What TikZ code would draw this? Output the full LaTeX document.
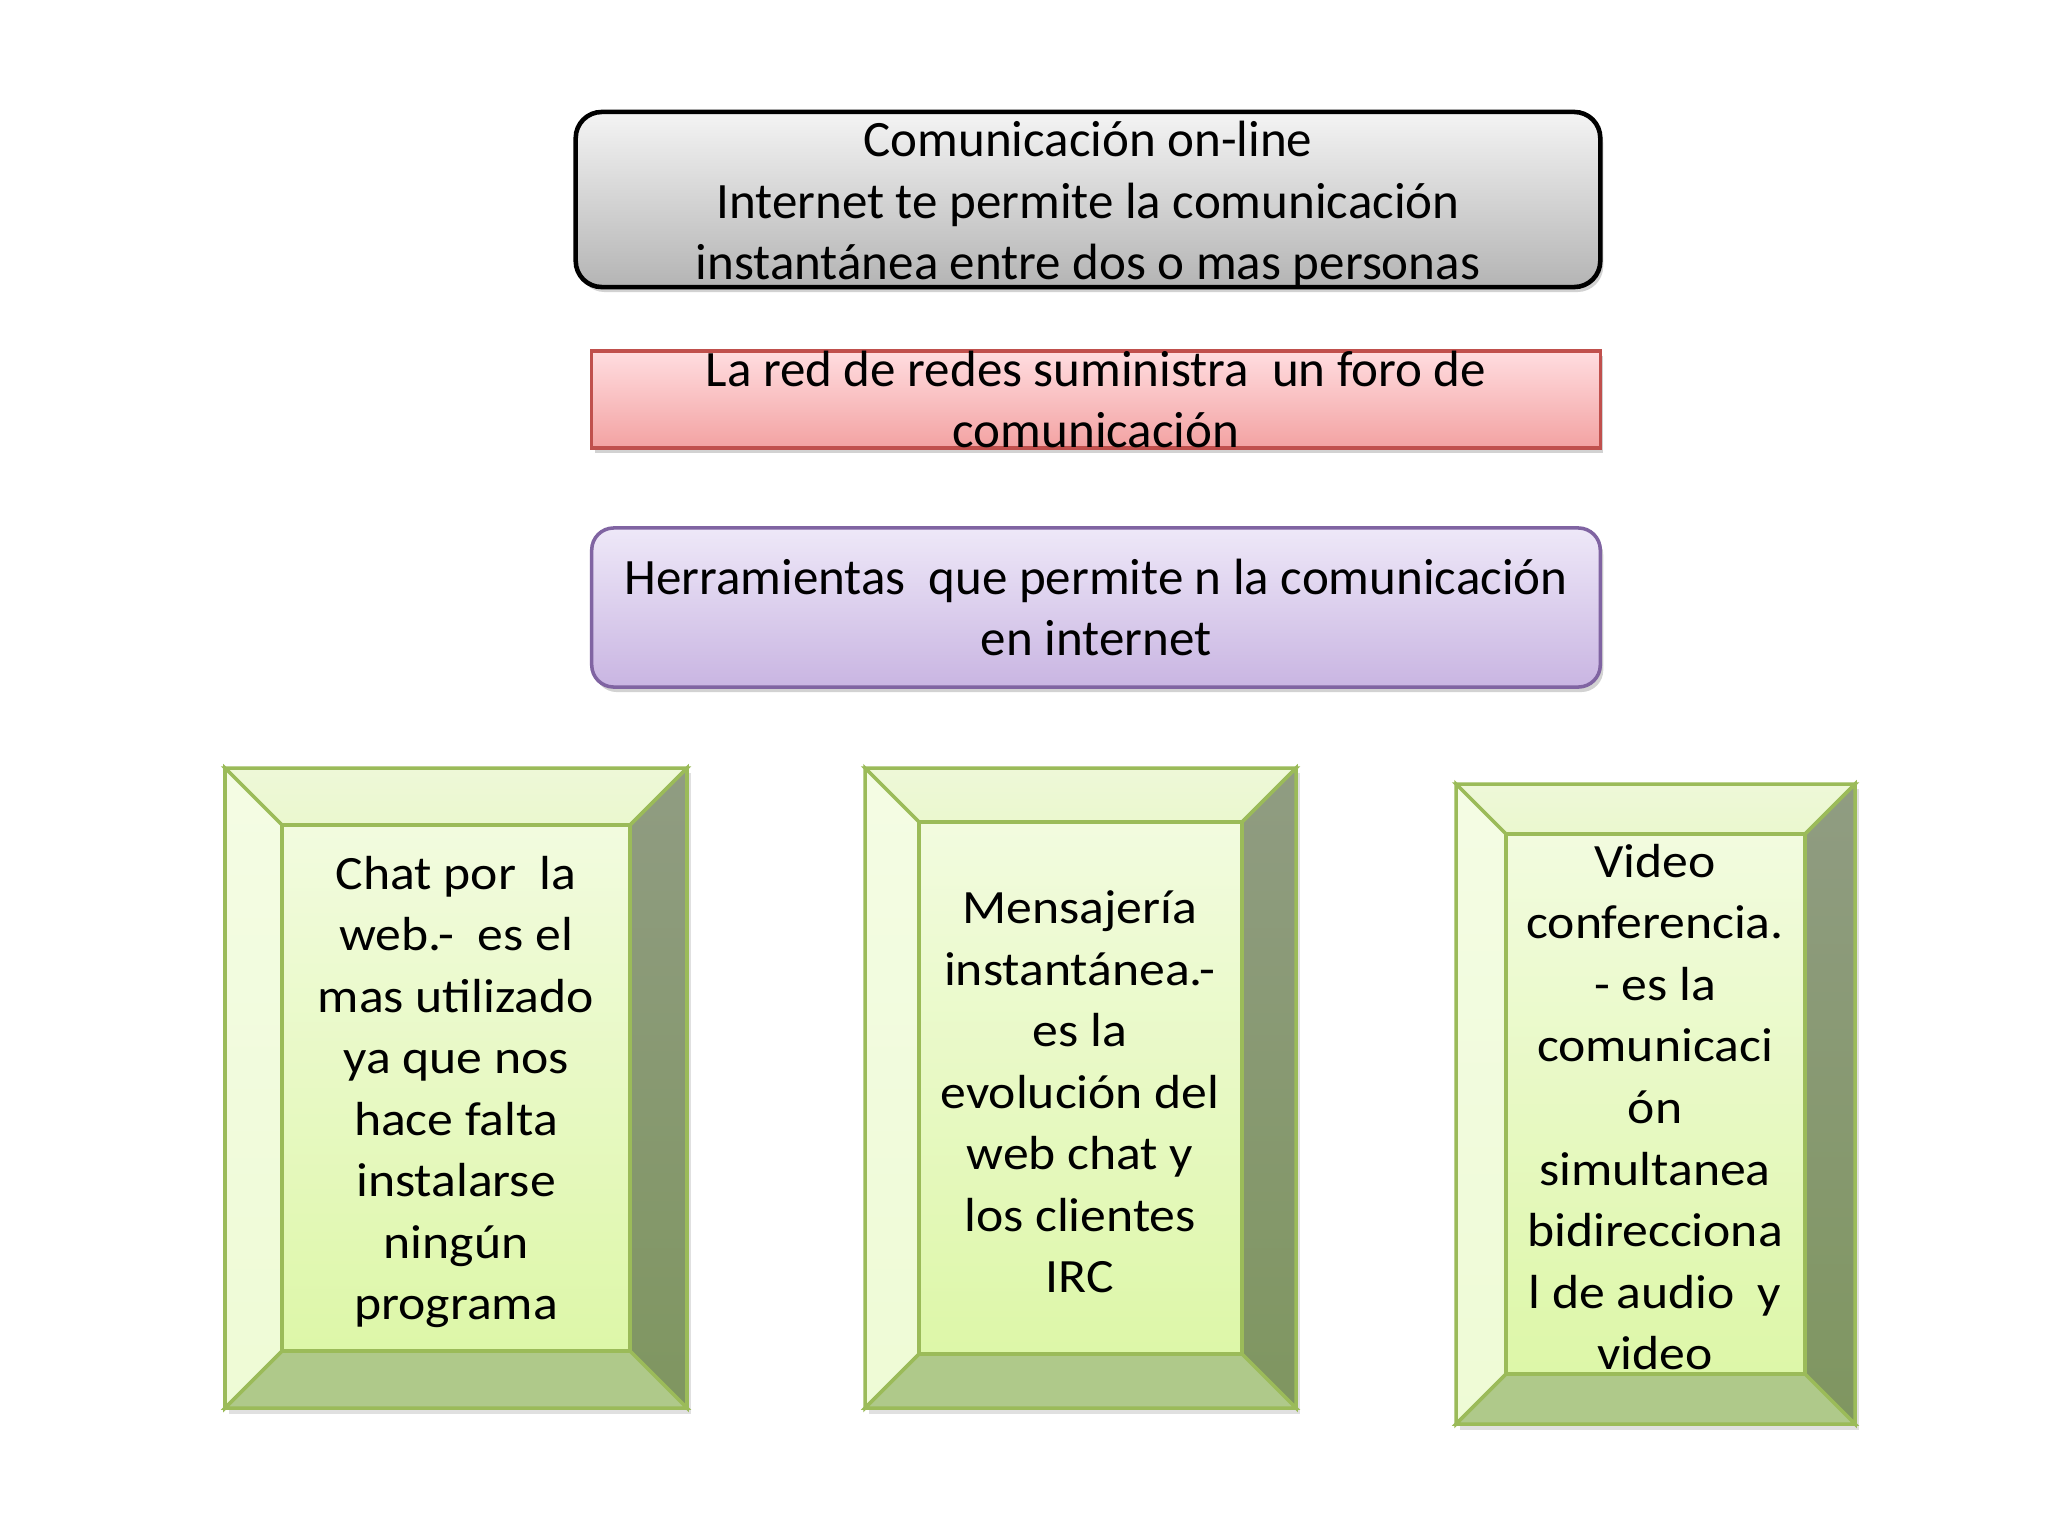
\documentclass[tikz,border=0pt]{standalone}
\usepackage{fontspec}
\setmainfont{Carlito}
\newfontfamily\ancha[FakeStretch=1.08]{Carlito}
\usetikzlibrary{shadows}

\definecolor{grisalto}{HTML}{F4F4F4}
\definecolor{grisbajo}{HTML}{B4B4B4}
\definecolor{rojoalto}{HTML}{FFDDE0}
\definecolor{rojobajo}{HTML}{F3A2A2}
\definecolor{rojoborde}{HTML}{C0504D}
\definecolor{lilaalto}{HTML}{EEE8F8}
\definecolor{lilabajo}{HTML}{C9B5E2}
\definecolor{lilaborde}{HTML}{8064A2}
\definecolor{verdeborde}{HTML}{9BBB59}
\definecolor{frentealto}{HTML}{F2FBDF}
\definecolor{frentebajo}{HTML}{DDF7A8}
\definecolor{biselsup}{HTML}{EEF8D8}
\definecolor{biselizq}{HTML}{F4FCE4}
\definecolor{biseldera}{HTML}{909C82}
\definecolor{biselderb}{HTML}{7F9660}
\definecolor{biselinf}{HTML}{AFC98A}

\tikzset{
  texto/.style={align=center, font=\fontsize{14.5}{17.4}\selectfont},
  textoancho/.style={align=center, font=\ancha\fontsize{13.6}{17.5}\selectfont},
  sombra/.style={drop shadow={shadow xshift=0.03cm, shadow yshift=-0.05cm, opacity=0.35}}
}

\begin{document}
\begin{tikzpicture}[x=0.01cm, y=-0.01cm]
\fill[white] (0,0) rectangle (2048,1536);
\useasboundingbox (0,0) rectangle (2048,1536);

% cajas superiores
\node[draw=black, line width=1.3pt, rounded corners=0.26cm, top color=grisalto, bottom color=grisbajo,
  sombra, minimum width=10.24cm, minimum height=1.75cm] (linea) at (1088,199.5) {};
\node[texto, yshift=-0.05cm] (lineatxt) at (linea) {Comunicación on-line\\Internet te permite la comunicación\\instantánea entre dos o mas personas};

\node[draw=rojoborde, line width=1pt, top color=rojoalto, bottom color=rojobajo,
  sombra, minimum width=10.08cm, minimum height=0.97cm] (foro) at (1096,399.5) {};
\node[texto] (forotxt) at (foro) {La red de redes suministra~ un foro de\\comunicación};

\node[draw=lilaborde, line width=1pt, rounded corners=0.22cm, top color=lilaalto, bottom color=lilabajo,
  sombra, minimum width=10.08cm, minimum height=1.59cm] (herr) at (1096,607.5) {};
\node[texto] (herrtxt) at (herr) {Herramientas~ que permite n la comunicación\\en internet};

% marcos biselados
\foreach \xa/\ya/\xb/\yb/\d in {225/768/687/1408/57, 865/768/1296/1408/54, 1456/784/1855/1424/50}{
  \fill[black, opacity=0.12] (\xa+4,\ya+5) rectangle (\xb+4,\yb+6);
  \draw[verdeborde, line width=1pt, top color=biselsup, bottom color=biselsup!80!frentebajo]
    (\xa,\ya) -- (\xb,\ya) -- (\xb-\d,\ya+\d) -- (\xa+\d,\ya+\d) -- cycle;
  \draw[verdeborde, line width=1pt, top color=biselizq, bottom color=biselizq!75!frentebajo]
    (\xa,\ya) -- (\xa+\d,\ya+\d) -- (\xa+\d,\yb-\d) -- (\xa,\yb) -- cycle;
  \draw[verdeborde, line width=1pt, top color=biseldera, bottom color=biselderb]
    (\xb,\ya) -- (\xb,\yb) -- (\xb-\d,\yb-\d) -- (\xb-\d,\ya+\d) -- cycle;
  \draw[verdeborde, line width=1pt, fill=biselinf]
    (\xa,\yb) -- (\xa+\d,\yb-\d) -- (\xb-\d,\yb-\d) -- (\xb,\yb) -- cycle;
  \draw[verdeborde, line width=1pt, top color=frentealto, bottom color=frentebajo]
    (\xa+\d,\ya+\d) rectangle (\xb-\d,\yb-\d);
}

\node[textoancho] (chat) at (456,1092) {Chat por~ la\\web.-~ es el\\mas utilizado\\ya que nos\\hace falta\\instalarse\\ningún\\programa};
\node[textoancho] (mensajeria) at (1080,1092) {Mensajería\\instantánea.-\\es la\\evolución del\\web chat y\\los clientes\\IRC};
\node[textoancho] (video) at (1655,1107) {Video\\conferencia.\\- es la\\comunicaci\\ón\\simultanea\\bidirecciona\\l de audio~ y\\video};
\end{tikzpicture}
\end{document}
